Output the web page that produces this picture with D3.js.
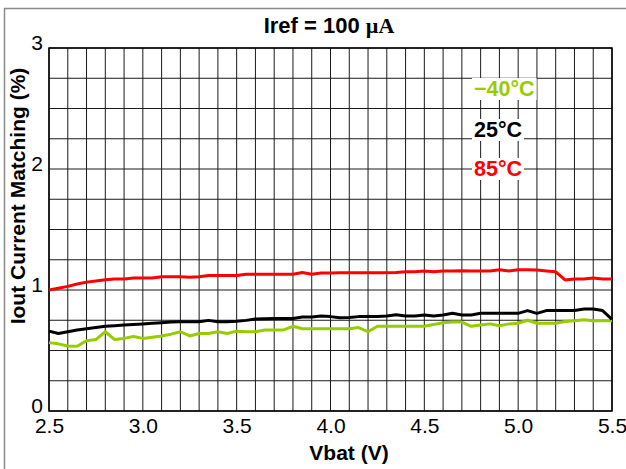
<!DOCTYPE html>
<html>
<head>
<meta charset="utf-8">
<script src="https://cdn.jsdelivr.net/npm/d3@7"></script>
<style>
  body { margin: 0; background: #fff; }
  text { font-family: "Liberation Sans", Arial, sans-serif; }
</style>
</head>
<body>
<div id="chart"></div>
<script>
const vbat = [2.5, 2.55, 2.6, 2.65, 2.7, 2.75, 2.8, 2.85, 2.9, 2.95,
	3.0, 3.05, 3.1, 3.15, 3.2, 3.25, 3.3, 3.35, 3.4, 3.45,
	3.5, 3.55, 3.6, 3.65, 3.7, 3.75, 3.8, 3.85, 3.9, 3.95,
	4.0, 4.05, 4.1, 4.15, 4.2, 4.25, 4.3, 4.35, 4.4, 4.45,
	4.5, 4.55, 4.6, 4.65, 4.7, 4.75, 4.8, 4.85, 4.9, 4.95,
	5.0, 5.05, 5.1, 5.15, 5.2, 5.25, 5.3, 5.35, 5.4, 5.45, 5.5];

const match85 = [1.0, 1.015, 1.03, 1.05, 1.065, 1.075, 1.085, 1.09, 1.09, 1.10,
	1.10, 1.10, 1.11, 1.11, 1.11, 1.105, 1.11, 1.12, 1.12, 1.12,
	1.12, 1.13, 1.13, 1.13, 1.13, 1.13, 1.13, 1.145, 1.13, 1.14,
	1.14, 1.143, 1.143, 1.143, 1.143, 1.143, 1.143, 1.145, 1.15, 1.15,
	1.157, 1.15, 1.157, 1.157, 1.16, 1.157, 1.157, 1.157, 1.168, 1.157,
	1.168, 1.168, 1.165, 1.157, 1.15, 1.083, 1.09, 1.09, 1.10, 1.09, 1.09];

const match25 = [0.66, 0.64, 0.655, 0.67, 0.68, 0.69, 0.70, 0.705, 0.71, 0.715,
	0.72, 0.725, 0.73, 0.735, 0.738, 0.738, 0.738, 0.749, 0.738, 0.738,
	0.742, 0.749, 0.76, 0.762, 0.765, 0.765, 0.765, 0.777, 0.777, 0.785,
	0.78, 0.77, 0.772, 0.78, 0.78, 0.78, 0.785, 0.796, 0.785, 0.785,
	0.794, 0.785, 0.794, 0.807, 0.794, 0.794, 0.807, 0.807, 0.807, 0.807,
	0.807, 0.83, 0.807, 0.83, 0.83, 0.83, 0.83, 0.843, 0.843, 0.83, 0.758];

const matchM40 = [0.565, 0.555, 0.537, 0.535, 0.58, 0.59, 0.655, 0.59, 0.60, 0.615,
	0.60, 0.61, 0.62, 0.635, 0.655, 0.62, 0.64, 0.64, 0.655, 0.64,
	0.66, 0.655, 0.655, 0.67, 0.67, 0.67, 0.70, 0.68, 0.68, 0.68,
	0.68, 0.68, 0.68, 0.69, 0.655, 0.70, 0.70, 0.70, 0.70, 0.70,
	0.70, 0.715, 0.73, 0.735, 0.735, 0.70, 0.71, 0.72, 0.705, 0.72,
	0.725, 0.75, 0.725, 0.725, 0.725, 0.74, 0.745, 0.755, 0.745, 0.745, 0.745];

const xTicks = [2.5, 3.0, 3.5, 4.0, 4.5, 5.0, 5.5];
const yTicks = [0, 1, 2, 3];

const series = [
	{label: "\u221240\u00b0C", values: matchM40, colour: "#99cc00"},
	{label: "25\u00b0C", values: match25, colour: "#000000"},
	{label: "85\u00b0C", values: match85, colour: "#ff0000"},
];

const width = 626;
const height = 469;
const margin = {left: 49, right: 14, top: 48, bottom: 58};

const svg = d3.select("#chart")
	.append("svg")
	.attr("width", width)
	.attr("height", height);

// Frame round the figure (top and left edges only are visible)
svg.append("path")
	.attr("d", `M4.5,${height} V8.5 H${width}`)
	.attr("fill", "none")
	.attr("stroke", "#8a8a8a")
	.attr("stroke-width", 1.5);

const x = d3.scaleLinear().domain([2.5, 5.5]).range([margin.left, width - margin.right]);
const y = d3.scaleLinear().domain([0, 3]).range([height - margin.bottom, margin.top]);

const grid = svg.append("g").attr("class", "grid");

// Vertical grid lines every 0.1 V
grid.selectAll(".vline")
	.data(d3.range(0, 31))
	.enter()
	.append("line")
	.attr("x1", (i) => x(2.5 + i * 0.1))
	.attr("x2", (i) => x(2.5 + i * 0.1))
	.attr("y1", y(0))
	.attr("y2", y(3))
	.attr("stroke", "#1a1a1a")
	.attr("stroke-width", 1);

// Horizontal grid lines every 0.25 %
grid.selectAll(".hline")
	.data(d3.range(0, 13))
	.enter()
	.append("line")
	.attr("x1", x(2.5))
	.attr("x2", x(5.5))
	.attr("y1", (i) => y(i * 0.25))
	.attr("y2", (i) => y(i * 0.25))
	.attr("stroke", "#1a1a1a")
	.attr("stroke-width", 1);

svg.append("rect")
	.attr("x", x(2.5))
	.attr("y", y(3))
	.attr("width", x(5.5) - x(2.5))
	.attr("height", y(0) - y(3))
	.attr("fill", "none")
	.attr("stroke", "#000")
	.attr("stroke-width", 1.5);

// Axes (labels only, the grid gives the ticks)
const xAxis = svg.append("g")
	.attr("transform", `translate(0,${y(0)})`)
	.call(d3.axisBottom(x).tickValues(xTicks).tickFormat(d3.format(".1f")).tickSize(0).tickPadding(7));
const yAxis = svg.append("g")
	.attr("transform", `translate(${x(2.5)},0)`)
	.call(d3.axisLeft(y).tickValues(yTicks).tickFormat(d3.format("d")).tickSize(0).tickPadding(6));

[xAxis, yAxis].forEach((a) => {
	a.select(".domain").remove();
	a.selectAll("text")
		.attr("font-family", "'Liberation Sans', Arial, sans-serif")
		.attr("font-size", 21)
		.attr("fill", "#000");
});
yAxis.selectAll("text").attr("dy", "0.05em");

// Data lines
const line = d3.line()
	.x((d, i) => x(vbat[i]))
	.y((d) => y(d));

svg.selectAll(".series")
	.data(series)
	.enter()
	.append("path")
	.attr("class", "series")
	.attr("d", (d) => line(d.values))
	.attr("fill", "none")
	.attr("stroke", (d) => d.colour)
	.attr("stroke-width", 3)
	.attr("stroke-linejoin", "round");

// Legend labels with white boxes that cut the grid
const legendY = [96, 137, 176];
series.forEach((s, i) => {
	const g = svg.append("g");
	const t = g.append("text")
		.attr("x", 474)
		.attr("y", legendY[i])
		.attr("font-size", 21.5)
		.attr("font-weight", 700)
		.attr("fill", s.colour)
		.text(s.label);
	const b = t.node().getBBox();
	g.insert("rect", "text")
		.attr("x", b.x - 2)
		.attr("y", b.y + 1)
		.attr("width", b.width + 4)
		.attr("height", b.height - 2)
		.attr("fill", "#fff");
});

// Title
const title = svg.append("text")
	.attr("x", 329)
	.attr("y", 33)
	.attr("text-anchor", "middle")
	.attr("font-size", 22)
	.attr("font-weight", 700);
title.append("tspan").text("Iref = 100 ");
title.append("tspan")
	.attr("font-family", "'Liberation Serif', 'Times New Roman', serif")
	.text("\u00b5A");

svg.append("text")
	.attr("x", 349)
	.attr("y", 460)
	.attr("text-anchor", "middle")
	.attr("font-size", 21)
	.attr("font-weight", 700)
	.text("Vbat (V)");

svg.append("text")
	.attr("transform", "translate(25,196) rotate(-90)")
	.attr("text-anchor", "middle")
	.attr("font-size", 21)
	.attr("font-weight", 700)
	.text("Iout Current Matching (%)");
</script>
</body>
</html>
